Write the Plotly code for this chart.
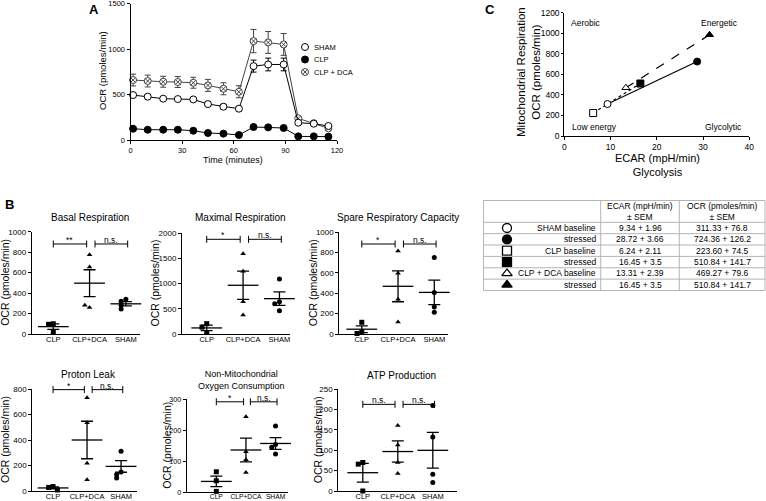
import plotly.graph_objects as go

W, H = 766, 501
FONT = "Arial, 'Liberation Sans', Helvetica, sans-serif"

# ---------------- Panel A data ----------------
time_min = [1.5, 10, 19, 27.5, 36.5, 45, 54, 63, 71.5, 80, 89, 97.5, 106.5, 115]
sham_ocr = [494, 476, 454, 450, 446, 395, 366, 344, 812, 830, 830, 190, 179, 154]
sham_sem = [25, 20, 15, 15, 15, 25, 25, 25, 66, 70, 70, 20, 15, 15]
clp_ocr = [124, 113, 113, 113, 102, 77, 70, 55, 143, 139, 132, 40, 40, 37]
clp_sem = [8, 8, 8, 8, 8, 8, 8, 8, 10, 10, 10, 6, 6, 6]
dca_ocr = [659, 648, 640, 637, 629, 600, 563, 530, 1087, 1072, 1050, 238, 185, 128]
dca_sem = [65, 65, 60, 60, 60, 66, 66, 66, 128, 120, 120, 20, 15, 15]
series_a_names = ["SHAM", "CLP", "CLP + DCA"]
a_xticks = [0, 30, 60, 90, 120]
a_yticks = [0, 500, 1000, 1500]

# ---------------- Panel B data ----------------
groups_b = ["CLP", "CLP+DCA", "SHAM"]

basal_clp = [100, 95, 20]
basal_dca = [775, 655, 260, 280]
basal_sham = [340, 320, 280, 245]
basal_mean = [72, 497, 295]
basal_sem = [27, 131, 21]
basal_sig = ["**", "n.s."]

max_clp = [205, 135, 30]
max_dca = [1590, 1245, 640, 375]
max_sham = [1090, 640, 600, 460]
max_mean = [120, 965, 700]
max_sem = [55, 280, 135]
max_sig = ["*", "n.s."]

spare_clp = [115, 20, 5]
spare_dca = [816, 597, 341, 118]
spare_sham = [751, 407, 266, 213]
spare_mean = [47, 469, 409]
spare_sem = [33, 152, 121]
spare_sig = ["*", "n.s."]

proton_clp = [35, 28, 8]
proton_dca = [732, 536, 217, 89]
proton_sham = [312, 150, 130, 102]
proton_mean = [24, 400, 193]
proton_sem = [8, 147, 46]
proton_sig = ["*", "n.s."]

nmoc_clp = [66, 37, 3]
nmoc_dca = [243, 130, 105, 64]
nmoc_sham = [213, 154, 145, 123]
nmoc_mean = [35, 136, 157]
nmoc_sem = [17, 38, 19]
nmoc_sig = ["*", "n.s."]

atp_clp = [70, 66, 0]
atp_dca = [161, 113, 70, 43]
atp_sham = [210, 133, 41, 21]
atp_mean = [45, 97, 100]
atp_sem = [23, 26, 44]
atp_sig = ["n.s.", "n.s."]

# ---------------- Panel C data ----------------
c_labels = ["SHAM baseline", "stressed", "CLP baseline", "stressed",
            "CLP + DCA baseline", "stressed"]
c_ecar = [9.34, 28.72, 6.24, 16.45, 13.31, 31.4]
c_ocr = [311.33, 724.36, 223.60, 510.84, 469.27, 985]
table_ecar = ["9.34 + 1.96", "28.72 + 3.66", "6.24 + 2.11", "16.45 + 3.5",
              "13.31 + 2.39", "16.45 + 3.5"]
table_ocr = ["311.33 + 76.8", "724.36 + 126.2", "223.60 + 74.5",
             "510.84 + 141.7", "469.27 + 79.6", "510.84 + 141.7"]
c_quadrants = ["Aerobic", "Energetic", "Low energy", "Glycolytic"]
c_xticks = [0, 10, 20, 30, 40]
c_yticks = [0, 200, 400, 600, 800, 1000, 1200]


# ---------------- helpers ----------------
def fx(p):
    return p / W


def fy(p):
    return 1 - p / H


layout = dict(width=W, height=H, margin=dict(l=0, r=0, t=0, b=0),
              paper_bgcolor="white", plot_bgcolor="rgba(0,0,0,0)", showlegend=False,
              font=dict(family=FONT, color="black"))
annotations = []
shapes = []
fig = go.Figure()


def names(n):
    s = "" if n == 1 else str(n)
    return "xaxis" + s, "yaxis" + s, "x" + s, "y" + s


def base_axis(size=8, **kw):
    d = dict(showline=True, linecolor="black", linewidth=1, ticks="outside",
             ticklen=3, tickwidth=1, tickcolor="black", showgrid=False,
             zeroline=False, fixedrange=True, tickangle=0, automargin=False,
             tickfont=dict(size=size, family=FONT, color="black"))
    d.update(kw)
    return d


def setup(n, xpx, ypx, xr, yr, xkw, ykw):
    xa, ya, xref, yref = names(n)
    layout[xa] = base_axis(domain=[fx(xpx[0]), fx(xpx[1])], range=xr, anchor=yref, **xkw)
    layout[ya] = base_axis(domain=[fy(ypx[1]), fy(ypx[0])], range=yr, anchor=xref, **ykw)
    return xref, yref


def text(x, y, s, size, xanchor="center", yanchor="middle", angle=0, bold=False, **kw):
    if bold:
        s = "<b>" + s + "</b>"
    annotations.append(dict(x=x, y=y, text=s, showarrow=False, xref="paper", yref="paper",
                            xanchor=xanchor, yanchor=yanchor, textangle=angle,
                            font=dict(size=size, family=FONT, color="black"), **kw))


def ptext(xp, yp, s, size, **kw):
    text(fx(xp), fy(yp), s, size, **kw)


# canvas axis (pixel coordinates) for legend keys and table symbols
layout["xaxis9"] = dict(domain=[0, 1], range=[0, W], visible=False, fixedrange=True, anchor="y9")
layout["yaxis9"] = dict(domain=[0, 1], range=[H, 0], visible=False, fixedrange=True, anchor="x9")

# ================= Panel A =================
xa, ya = setup(1, (130.5, 337), (3.5, 140), [0, 120], [0, 1500],
               dict(tickvals=a_xticks, size=7.5), dict(tickvals=a_yticks, size=7.5))
a_styles = {
    "CLP + DCA": dict(y=dca_ocr, e=dca_sem, sym="circle-x", fill="white", lc="#444"),
    "SHAM": dict(y=sham_ocr, e=sham_sem, sym="circle", fill="white", lc="black"),
    "CLP": dict(y=clp_ocr, e=clp_sem, sym="circle", fill="black", lc="black"),
}
for nm in ["CLP + DCA", "SHAM", "CLP"]:
    st = a_styles[nm]
    fig.add_trace(go.Scatter(x=time_min, y=st["y"], mode="lines", xaxis=xa, yaxis=ya,
                             line=dict(color=st["lc"], width=1), hoverinfo="skip",
                             cliponaxis=False))
    fig.add_trace(go.Scatter(x=time_min, y=st["y"], mode="markers", xaxis=xa, yaxis=ya,
                             name=nm, cliponaxis=False,
                             error_y=dict(type="data", array=st["e"], color=st["lc"],
                                          thickness=1, width=3),
                             marker=dict(symbol=st["sym"], size=7, color=st["fill"],
                                         line=dict(color=st["lc"], width=1))))
# custom legend for A
LEG_X, LEG_Y0, LEG_DY = 305, 47, 12.5
for i, nm in enumerate(series_a_names):
    st = a_styles[nm]
    fig.add_trace(go.Scatter(x=[LEG_X], y=[LEG_Y0 + i * LEG_DY], mode="markers",
                             xaxis="x9", yaxis="y9", cliponaxis=False, hoverinfo="skip",
                             marker=dict(symbol=st["sym"], size=7, color=st["fill"],
                                         line=dict(color=st["lc"], width=1))))
    ptext(LEG_X + 7, LEG_Y0 + i * LEG_DY, nm, 7.5, xanchor="left")
ptext(103, 71, "OCR (pmoles/min)", 9.5, angle=-90)
ptext(233, 160, "Time (minutes)", 9)
ptext(94, 10, "A", 13, bold=True)

# ================= Panel C =================
xc, yc = setup(2, (564.3, 749.3), (12.7, 136), [0, 40], [0, 1200],
               dict(tickvals=c_xticks, size=8.5), dict(tickvals=c_yticks, size=8.5, ticklen=2))
c_symbols = ["circle-open", "circle", "square-open", "square", "triangle-up-open", "triangle-up"]
c_dash = ["solid", "dot", "dash"]
for g in range(3):
    i0, i1 = 2 * g, 2 * g + 1
    fig.add_trace(go.Scatter(x=[c_ecar[i0], c_ecar[i1]], y=[c_ocr[i0], c_ocr[i1]],
                             mode="lines", xaxis=xc, yaxis=yc, hoverinfo="skip",
                             line=dict(color="black", width=1.2, dash=c_dash[g])))
for i in range(6):
    filled = i % 2 == 1
    fig.add_trace(go.Scatter(x=[c_ecar[i]], y=[c_ocr[i]], mode="markers", xaxis=xc, yaxis=yc,
                             cliponaxis=False, name=c_labels[i],
                             marker=dict(symbol=c_symbols[i].replace("-open", ""), size=7,
                                         color="black" if filled else "white",
                                         line=dict(color="black", width=1))))
ptext(586, 23, c_quadrants[0], 8.5)
ptext(719, 23, c_quadrants[1], 8.5)
ptext(594, 127, c_quadrants[2], 8.5)
ptext(723, 127, c_quadrants[3], 8.5)
ptext(528, 72, "Mitochondrial Respiration<br>OCR (pmoles/min)", 11.5, angle=-90)
ptext(657, 165, "ECAR (mpH/min)<br>Glycolysis", 11)
ptext(490, 10, "C", 13, bold=True)

# ---- table ----
T_L, T_R, T_T, T_B = 483.5, 765, 200.5, 290.5
T_HEAD = 222.3
T_C1, T_C2 = 600.7, 679.3
row_h = (T_B - T_HEAD) / len(c_labels)
grid = "#b5b5b5"
shapes.append(dict(type="rect", xref="paper", yref="paper", x0=fx(T_L), x1=fx(T_R),
                   y0=fy(T_B), y1=fy(T_T), line=dict(color=grid, width=1)))
for xv in (T_C1, T_C2):
    shapes.append(dict(type="line", xref="paper", yref="paper", x0=fx(xv), x1=fx(xv),
                       y0=fy(T_B), y1=fy(T_T), line=dict(color=grid, width=1)))
for k in range(len(c_labels)):
    yv = T_HEAD + k * row_h
    shapes.append(dict(type="line", xref="paper", yref="paper", x0=fx(T_L), x1=fx(T_R),
                       y0=fy(yv), y1=fy(yv), line=dict(color=grid, width=1)))
ptext((T_C1 + T_C2) / 2, (T_T + T_HEAD) / 2, "ECAR (mpH/min)<br>± SEM", 8.5)
ptext((T_C2 + T_R) / 2, (T_T + T_HEAD) / 2, "OCR (pmoles/min)<br>± SEM", 8.5)
row_y = [T_HEAD + (k + 0.5) * row_h for k in range(len(c_labels))]
for k in range(len(c_labels)):
    ptext(T_C1 - 3, row_y[k], c_labels[k], 8.5, xanchor="right")
    ptext((T_C1 + T_C2) / 2, row_y[k], table_ecar[k], 8.5)
    ptext((T_C2 + T_R) / 2, row_y[k], table_ocr[k], 8.5)
fig.add_trace(go.Scatter(x=[T_L + 23.5] * len(c_labels), y=row_y, mode="markers",
                         xaxis="x9", yaxis="y9", cliponaxis=False, hoverinfo="skip",
                         marker=dict(symbol=[s.replace("-open", "") for s in c_symbols], size=9,
                                     color=["white", "black"] * 3,
                                     line=dict(color="black", width=1.3))))

# ================= Panel B =================
panels = [
    dict(n=3, title="Basal Respiration", pts=[basal_clp, basal_dca, basal_sham], mean=basal_mean,
         sem=basal_sem, sig=basal_sig, bar_y=880, yr=1000, dtick=200,
         xpx=(31.7, 140), ypx=(231.7, 334), xr=[-0.595, 2.39], title_y=218, ytx=5,
         fs=8, ts=10),
    dict(n=4, title="Maximal Respiration", pts=[max_clp, max_dca, max_sham], mean=max_mean,
         sem=max_sem, sig=max_sig, bar_y=1875, yr=2000, dtick=500,
         xpx=(182, 290), ypx=(233, 334), xr=[-0.68, 2.29], title_y=218, ytx=154,
         fs=8, ts=10),
    dict(n=5, title="Spare Respiratory Capacity", pts=[spare_clp, spare_dca, spare_sham],
         mean=spare_mean, sem=spare_sem, sig=spare_sig, bar_y=885, yr=1000, dtick=200,
         xpx=(339.3, 447.7), ypx=(232.3, 334), xr=[-0.62, 2.37], title_y=218, ytx=313,
         fs=8, ts=10),
    dict(n=6, title="Proton Leak", pts=[proton_clp, proton_dca, proton_sham], mean=proton_mean,
         sem=proton_sem, sig=proton_sig, bar_y=795, yr=800, dtick=200,
         xpx=(32.3, 136.7), ypx=(389, 491), xr=[-0.61, 2.46], title_y=374, ytx=5,
         fs=8, ts=10),
    dict(n=7, title="Non-Mitochondrial<br>Oxygen Consumption", pts=[nmoc_clp, nmoc_dca, nmoc_sham],
         mean=nmoc_mean, sem=nmoc_sem, sig=nmoc_sig, bar_y=291, yr=300, dtick=100,
         xpx=(186.7, 288), ypx=(399, 492.3), xr=[-1.0, 2.42], title_y=380, ytx=167,
         fs=7.2, ts=9),
    dict(n=8, title="ATP Production", pts=[atp_clp, atp_dca, atp_sham], mean=atp_mean,
         sem=atp_sem, sig=atp_sig, bar_y=213, yr=250, dtick=50,
         xpx=(338.3, 457.3), ypx=(389.3, 491), xr=[-0.7, 2.7], title_y=375, ytx=318,
         fs=8, ts=10),
]
b_symbols = ["square", "triangle-up", "circle"]


def spread(vals, span):
    pattern = [0, -1, 1, -2, 2]
    out = []
    for i, v in enumerate(vals):
        cnt = sum(1 for j in range(i) if abs(vals[j] - v) < span * 0.05)
        out.append(pattern[min(cnt, 4)] * 0.13)
    return out


for p in panels:
    xr_, yr_ = setup(p["n"], p["xpx"], p["ypx"], p["xr"], [0, p["yr"]],
                     dict(tickvals=[0, 1, 2], ticktext=groups_b, ticks="", size=p["fs"] - 0.5,
                          ticklabelstandoff=-2),
                     dict(tick0=0, dtick=p["dtick"], size=p["fs"]))
    for g in range(3):
        vals = p["pts"][g]
        offs = spread(vals, p["yr"])
        fig.add_trace(go.Scatter(x=[g + o for o in offs], y=vals, mode="markers",
                                 xaxis=xr_, yaxis=yr_, cliponaxis=False, hoverinfo="skip",
                                 marker=dict(symbol=b_symbols[g], size=5, color="black")))
    fig.add_trace(go.Scatter(x=[0, 1, 2], y=p["mean"], mode="markers", xaxis=xr_, yaxis=yr_,
                             cliponaxis=False, hoverinfo="skip",
                             error_y=dict(type="data", array=p["sem"], color="black",
                                          thickness=1.3, width=6),
                             marker=dict(symbol="line-ew", size=22, color="black",
                                         line=dict(color="black", width=1.3))))
    for (a, b), lab in zip([(0.0, 0.92), (1.15, 2.05)], p["sig"]):
        fig.add_trace(go.Scatter(x=[a, b], y=[p["bar_y"]] * 2, mode="lines+markers",
                                 xaxis=xr_, yaxis=yr_, cliponaxis=False, hoverinfo="skip",
                                 line=dict(color="black", width=1),
                                 marker=dict(symbol="line-ns", size=5, color="black",
                                             line=dict(color="black", width=1))))
        annotations.append(dict(x=(a + b) / 2, y=p["bar_y"], xref=xr_, yref=yr_, text=lab,
                                showarrow=False, yanchor="bottom", yshift=-3,
                                font=dict(size=8.5, family=FONT, color="black")))
    cx = (p["xpx"][0] + p["xpx"][1]) / 2 + 4
    ptext(cx, p["title_y"], p["title"], p["ts"])
    ptext(p["ytx"], (p["ypx"][0] + p["ypx"][1]) / 2, "OCR (pmoles/min)", 10.5, angle=-90)

ptext(9, 205, "B", 13, bold=True)

layout["annotations"] = annotations
layout["shapes"] = shapes
fig.update_layout(**layout)
fig.write_html("out.html", config={"displayModeBar": False},
               post_script="document.body.style.margin='0';document.body.style.overflow='hidden';")
